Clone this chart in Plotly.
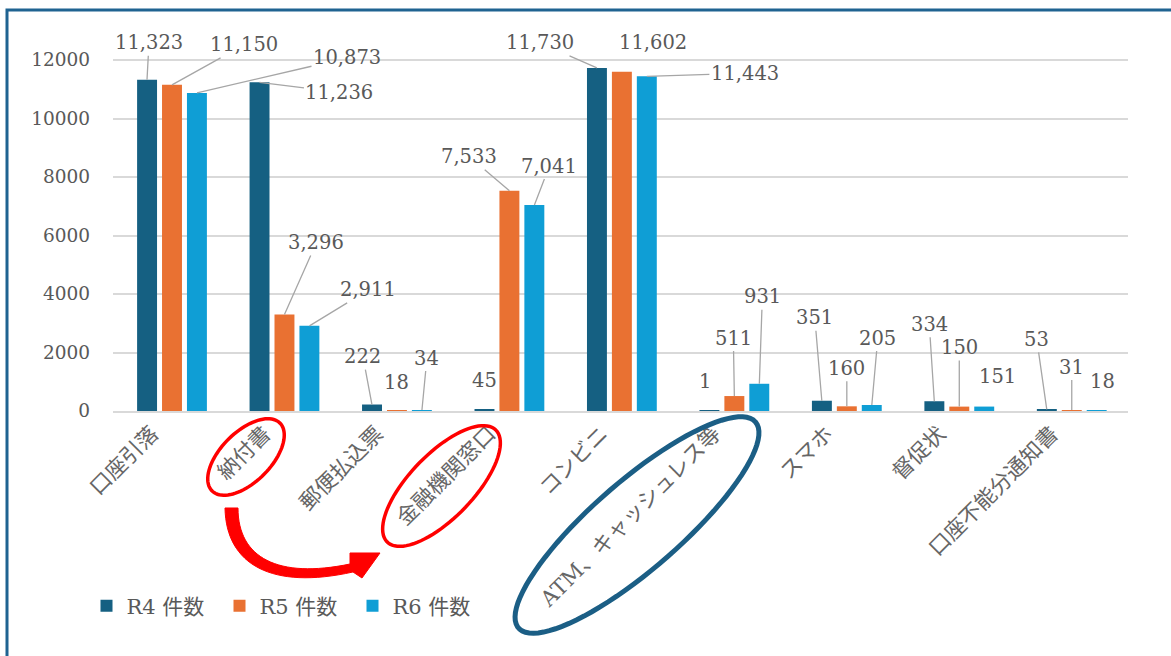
import numpy as np
import plotly.graph_objects as go

categories = ["口座引落", "納付書", "郵便払込票", "金融機関窓口", "コンビニ",
              "ATM、キャッシュレス等", "スマホ", "督促状", "口座不能分通知書"]
series_names = ["R4 件数", "R5 件数", "R6 件数"]
r4 = [11323, 11236, 222, 45, 11730, 1, 351, 334, 53]
r5 = [11150, 3296, 18, 7533, 11602, 511, 160, 150, 31]
r6 = [10873, 2911, 34, 7041, 11443, 931, 205, 151, 18]
y_ticks = [0, 2000, 4000, 6000, 8000, 10000, 12000]

colors = ["#156082", "#E97132", "#0F9ED5"]
W, H = 1171, 656
L, R_, T, B = 113, 43, 30, 245
plot_w = W - L - R_
plot_h = H - T - B
ymax = 12000 * plot_h / 351.0

def px(x):
    return (x - L) / plot_w

def py(y):
    return (H - B - y) / plot_h

fig = go.Figure()
for name, vals, col in zip(series_names, [r4, r5, r6], colors):
    fig.add_trace(go.Bar(x=categories, y=vals, name=name, marker_color=col,
                         marker_line_width=0))

# label offsets (pixels, text centre relative to bar top) and leader flag
offsets = [
    [(2, -37, 1), (80, 10, 1), (-9, -48, 1), (0, -29, 0), (-57, -25, 1),
     (-4, -29, 0), (-7, -83, 1), (-5, -77, 1), (-10, -70, 1)],
    [(72, -40, 1), (32, -72, 1), (0, -28, 0), (-40, -34, 1), (31, -29, 0),
     (-1, -58, 1), (0, -38, 1), (0, -59, 1), (0, -43, 1)],
    [(150, -35, 1), (59, -36, 1), (5, -52, 1), (15, -39, 1), (98, -3, 1),
     (3, -87, 1), (6, -67, 1), (13, -30, 0), (6, -29, 0)],
]
shifts = [-25, 0, 25]
annotations = []
for s, vals in enumerate([r4, r5, r6]):
    for i, v in enumerate(vals):
        ax, ay, lead = offsets[s][i]
        annotations.append(dict(
            x=categories[i], y=v, xref="x", yref="y", xshift=shifts[s],
            text=f"{v:,}", showarrow=True, arrowhead=0, arrowwidth=1.3,
            arrowcolor="#a6a6a6" if lead else "rgba(0,0,0,0)",
            ax=ax, ay=ay, axref="pixel", ayref="pixel",
            font=dict(family="DejaVu Serif", size=19.5, color="#595959")))

def ellipse_path(cx, cy, a, b, theta_deg, n=90):
    th = np.radians(theta_deg)
    t = np.linspace(0, 2 * np.pi, n)
    xs = cx + a * np.cos(t) * np.cos(th) - b * np.sin(t) * np.sin(th)
    ys = cy - (a * np.cos(t) * np.sin(th) + b * np.sin(t) * np.cos(th))
    pts = [f"{px(x):.5f},{py(y):.5f}" for x, y in zip(xs, ys)]
    return "M " + " L ".join(pts) + " Z"

def P(x, y):
    return f"{px(x):.5f},{py(y):.5f}"

shapes = []
# outer frame
shapes.append(dict(type="rect", xref="paper", yref="paper",
                   x0=px(7), x1=px(W + 20), y0=py(H + 20), y1=py(10),
                   line=dict(color="#1F6391", width=3), layer="above"))
shapes.append(dict(type="path", xref="paper", yref="paper",
                   path=ellipse_path(246, 457, 48, 25, 45),
                   line=dict(color="#FF0000", width=3.5)))
shapes.append(dict(type="path", xref="paper", yref="paper",
                   path=ellipse_path(441.5, 486, 78, 32, 46),
                   line=dict(color="#FF0000", width=3.5)))
shapes.append(dict(type="path", xref="paper", yref="paper",
                   path=ellipse_path(637, 525, 157, 44, 41),
                   line=dict(color="#1B5E85", width=5)))

arrow_path = (f"M {P(225,508)} C {P(226,565)} {P(272,590)} {P(353,572)} "
              f"L {P(362,578)} L {P(380,553)} L {P(350,553)} L {P(350,564)} "
              f"C {P(278,579)} {P(238,558)} {P(238,508)} Z")
shapes.append(dict(type="path", xref="paper", yref="paper", path=arrow_path,
                   fillcolor="#FF0000", line=dict(color="#FF0000", width=1)))

fig.update_layout(
    width=W, height=H,
    margin=dict(l=L, r=R_, t=T, b=B),
    paper_bgcolor="white", plot_bgcolor="white",
    barmode="group", bargap=0.335, bargroupgap=0.2,
    font=dict(family="DejaVu Serif, Noto Sans CJK JP", color="#595959", size=18),
    xaxis=dict(tickangle=-45, showgrid=False, showline=True, linecolor="#d9d9d9",
               linewidth=1.5, ticks="", automargin=False, ticklabelshift=-20,
               tickfont=dict(family="DejaVu Serif, Noto Sans CJK JP", size=21.5,
                             color="#666666")),
    yaxis=dict(range=[0, ymax], tickvals=y_ticks, tickformat="d",
               showgrid=True, gridcolor="#d9d9d9", gridwidth=1.5,
               zeroline=False, showline=False, automargin=False,
               ticklabelstandoff=22,
               tickfont=dict(family="DejaVu Serif", size=18.5, color="#595959")),
    legend=dict(orientation="h", x=px(86.5), y=py(606), xanchor="left",
                yanchor="middle", entrywidth=88, entrywidthmode="pixels",
                font=dict(family="DejaVu Serif, Noto Sans CJK JP", size=21,
                          color="#595959")),
    annotations=annotations,
    shapes=shapes,
)

fig.write_html("out.html", config={"displayModeBar": False},
               post_script="document.body.style.margin='0px';")
